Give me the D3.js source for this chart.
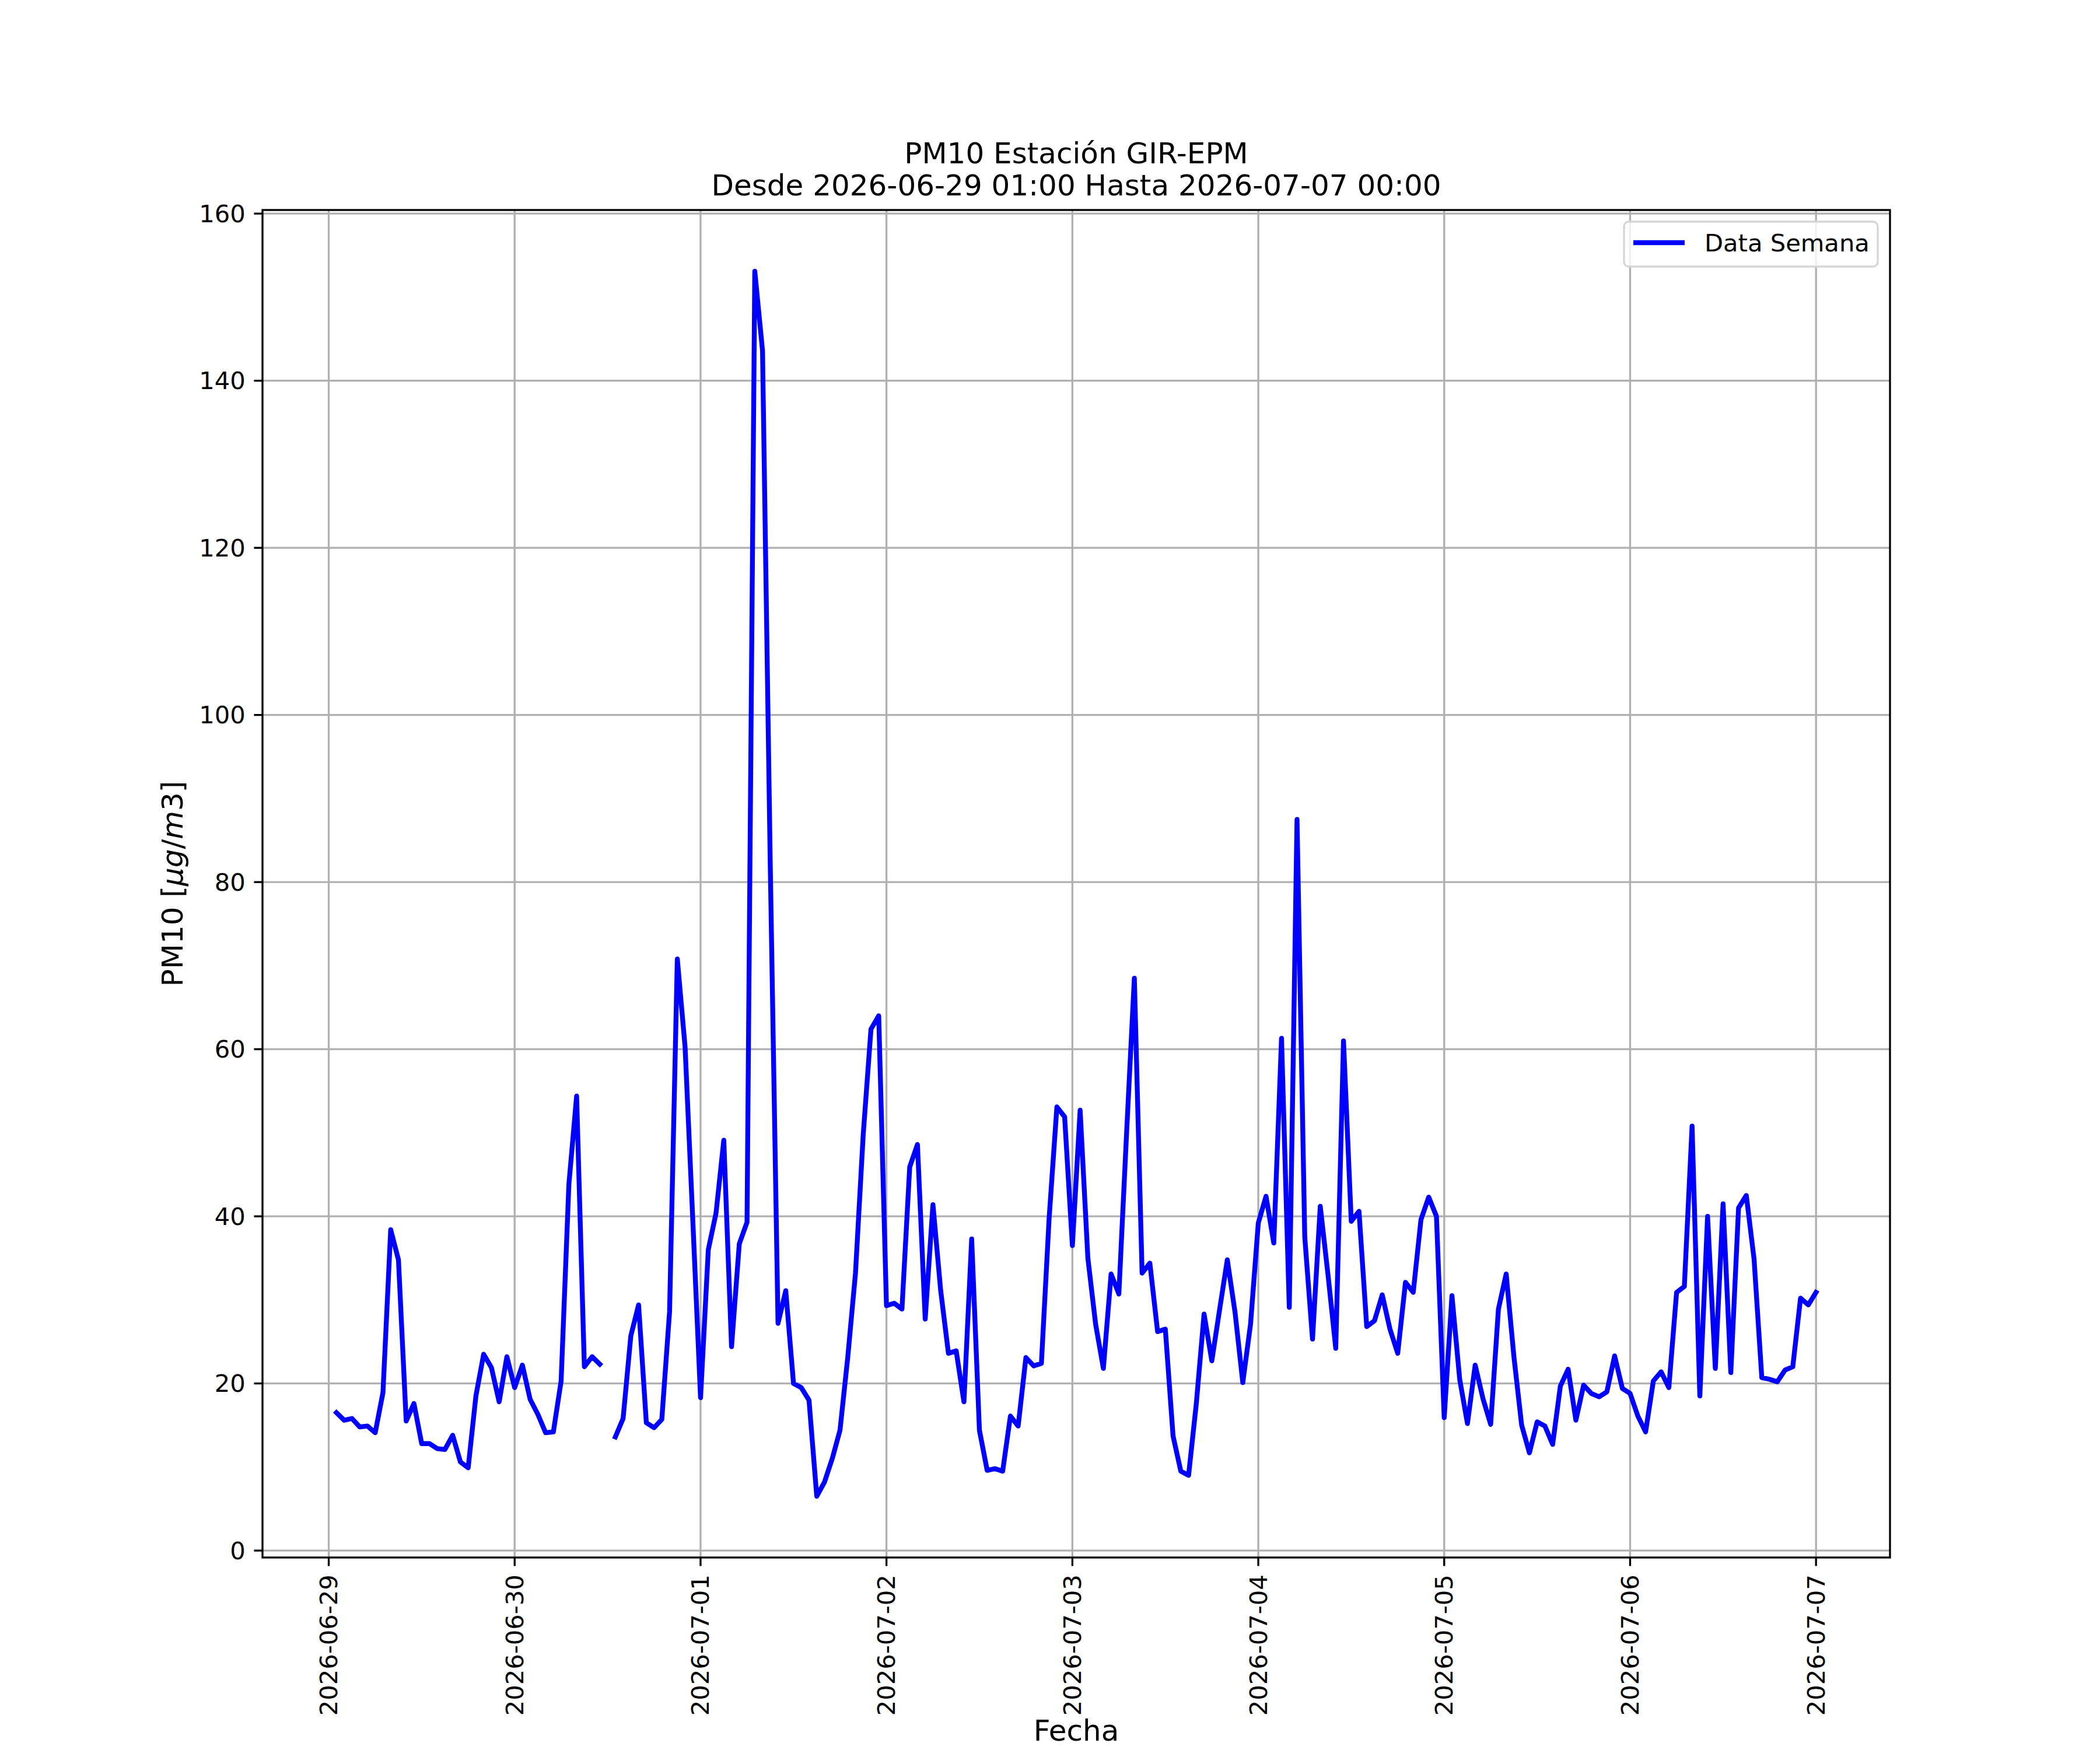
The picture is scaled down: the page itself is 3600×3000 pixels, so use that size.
<!DOCTYPE html>
<html>
<head>
<meta charset="utf-8">
<script src="https://cdn.jsdelivr.net/npm/d3@7"></script>
<style>
  body { margin: 0; background: #fff; }
  svg { display: block; font-family: "DejaVu Sans", sans-serif; }
</style>
</head>
<body>
<svg width="3600" height="3000"></svg>
<script>
// hourly PM10, from 2026-06-29 01:00 (null = missing hour)
const startHour = Date.UTC(2026, 5, 29, 1);
const pm10 = [
  16.5, 15.6, 15.8, 14.8, 14.9, 14.1, 18.9, 38.4, 34.8, 15.5, 17.6, 12.8,
  12.8, 12.2, 12.1, 13.8, 10.6, 9.9, 18.5, 23.5, 21.9, 17.8, 23.2, 19.5,
  22.2, 18.1, 16.3, 14.1, 14.2, 20.3, 43.8, 54.4, 22.0, 23.2, 22.3, null,
  13.6, 15.8, 25.7, 29.4, 15.3, 14.7, 15.7, 28.6, 70.8, 60.3, 39.5, 18.3,
  36.0, 40.4, 49.1, 24.4, 36.7, 39.3, 153.1, 143.6, 82.0, 27.2, 31.1, 20.0,
  19.5, 18.0, 6.5, 8.2, 11.0, 14.4, 23.1, 33.2, 49.8, 62.4, 64.0, 29.3,
  29.6, 28.9, 45.9, 48.6, 27.7, 41.4, 31.1, 23.6, 23.9, 17.8, 37.3, 14.4,
  9.6, 9.8, 9.5, 16.1, 14.9, 23.1, 22.1, 22.4, 39.8, 53.1, 51.9, 36.5,
  52.7, 35.0, 27.1, 21.8, 33.1, 30.7, 50.0, 68.5, 33.2, 34.4, 26.2, 26.5,
  13.7, 9.5, 9.0, 17.6, 28.3, 22.7, 28.8, 34.8, 28.5, 20.1, 27.1, 39.2,
  42.4, 36.8, 61.3, 29.1, 87.5, 37.5, 25.3, 41.2, 33.0, 24.2, 61.0, 39.4,
  40.6, 26.8, 27.5, 30.6, 26.5, 23.6, 32.1, 30.9, 39.6, 42.3, 40.0, 15.9,
  30.5, 20.5, 15.2, 22.2, 18.2, 15.1, 28.9, 33.1, 23.2, 15.0, 11.7, 15.4,
  14.9, 12.7, 19.7, 21.7, 15.6, 19.8, 18.8, 18.4, 19.0, 23.3, 19.4, 18.8,
  16.1, 14.2, 20.3, 21.4, 19.5, 30.9, 31.6, 50.8, 18.5, 40.0, 21.8, 41.5,
  21.3, 41.0, 42.5, 34.9, 20.7, 20.5, 20.2, 21.6, 22.0, 30.2, 29.4, 30.9
];
const yTicks = [0, 20, 40, 60, 80, 100, 120, 140, 160];
const dayTicks = ["2026-06-29", "2026-06-30", "2026-07-01", "2026-07-02", "2026-07-03",
                  "2026-07-04", "2026-07-05", "2026-07-06", "2026-07-07"];
const titleLines = ["PM10 Estación GIR-EPM", "Desde 2026-06-29 01:00 Hasta 2026-07-07 00:00"];
const seriesName = "Data Semana";

const data = pm10.map((v, i) => ({ t: new Date(startHour + i * 3600e3), v: v }));

// figure 12x10 in @ 300 dpi, default subplot box
const W = 3600, H = 3000;
const ax = { left: 450, right: 3240, top: 360, bottom: 2670 };
const pt = 300 / 72;
const tickLen = 3.5 * pt, tickPad = 3.5 * pt, thin = 0.8 * pt;
const tickFont = 10 * pt, labelFont = 12 * pt;

// 5% margins like matplotlib autoscale
const tExt = d3.extent(data, d => d.t);
const tSpan = tExt[1] - tExt[0];
const vals = pm10.filter(v => v != null);
const vExt = d3.extent(vals);
const vSpan = vExt[1] - vExt[0];

const x = d3.scaleUtc()
  .domain([new Date(+tExt[0] - 0.05 * tSpan), new Date(+tExt[1] + 0.05 * tSpan)])
  .range([ax.left, ax.right]);
const y = d3.scaleLinear()
  .domain([vExt[0] - 0.05 * vSpan, vExt[1] + 0.05 * vSpan])
  .range([ax.bottom, ax.top]);

const parseDay = d3.utcParse("%Y-%m-%d");
const days = dayTicks.map(parseDay);

const svg = d3.select("svg");
svg.append("rect").attr("width", W).attr("height", H).attr("fill", "#fff");

// grid
const grid = svg.append("g").attr("stroke", "#b0b0b0").attr("stroke-width", thin);
grid.selectAll(".gx").data(days).enter().append("line")
  .attr("x1", d => x(d)).attr("x2", d => x(d))
  .attr("y1", ax.top).attr("y2", ax.bottom);
grid.selectAll(".gy").data(yTicks).enter().append("line")
  .attr("x1", ax.left).attr("x2", ax.right)
  .attr("y1", d => y(d)).attr("y2", d => y(d));

// series
const line = d3.line()
  .defined(d => d.v != null)
  .x(d => x(d.t))
  .y(d => y(d.v));
svg.append("path")
  .datum(data)
  .attr("d", line)
  .attr("fill", "none")
  .attr("stroke", "#0000ff")
  .attr("stroke-width", 2 * pt)
  .attr("stroke-linejoin", "round")
  .attr("stroke-linecap", "square");

// spines
svg.append("rect")
  .attr("x", ax.left).attr("y", ax.top)
  .attr("width", ax.right - ax.left).attr("height", ax.bottom - ax.top)
  .attr("fill", "none").attr("stroke", "#000").attr("stroke-width", thin);

// x ticks
const xt = svg.append("g");
xt.selectAll("line").data(days).enter().append("line")
  .attr("x1", d => x(d)).attr("x2", d => x(d))
  .attr("y1", ax.bottom).attr("y2", ax.bottom + tickLen)
  .attr("stroke", "#000").attr("stroke-width", thin);
xt.selectAll("text").data(days).enter().append("text")
  .attr("transform", d => `translate(${x(d)},${ax.bottom + tickLen + tickPad}) rotate(-90)`)
  .attr("text-anchor", "end")
  .attr("dominant-baseline", "central")
  .attr("font-size", tickFont)
  .text(d3.utcFormat("%Y-%m-%d"));

// y ticks
const yt = svg.append("g");
yt.selectAll("line").data(yTicks).enter().append("line")
  .attr("x1", ax.left - tickLen).attr("x2", ax.left)
  .attr("y1", d => y(d)).attr("y2", d => y(d))
  .attr("stroke", "#000").attr("stroke-width", thin);
yt.selectAll("text").data(yTicks).enter().append("text")
  .attr("x", ax.left - tickLen - tickPad)
  .attr("y", d => y(d))
  .attr("text-anchor", "end")
  .attr("dominant-baseline", "central")
  .attr("font-size", tickFont)
  .text(d => d);

// axis labels
svg.append("text")
  .attr("x", (ax.left + ax.right) / 2).attr("y", 2984)
  .attr("text-anchor", "middle")
  .attr("font-size", labelFont)
  .text("Fecha");

const yl = svg.append("text")
  .attr("transform", `translate(296,${(ax.top + ax.bottom) / 2}) rotate(-90)`)
  .attr("text-anchor", "middle")
  .attr("dominant-baseline", "central")
  .attr("font-size", labelFont);
yl.append("tspan").text("PM10 [");
yl.append("tspan").attr("font-style", "italic").text("μg");
yl.append("tspan").text("/");
yl.append("tspan").attr("font-style", "italic").text("m");
yl.append("tspan").text("3]");

// title
svg.selectAll(".title").data(titleLines).enter().append("text")
  .attr("x", (ax.left + ax.right) / 2)
  .attr("y", (d, i) => 280 + i * 55)
  .attr("text-anchor", "middle")
  .attr("font-size", labelFont)
  .text(d => d);

// legend
const lg = svg.append("g");
lg.append("rect")
  .attr("x", 2784).attr("y", 380)
  .attr("width", 3219 - 2784).attr("height", 457 - 380)
  .attr("rx", 8).attr("ry", 8)
  .attr("fill", "rgba(255,255,255,0.8)")
  .attr("stroke", "#d6d6d6").attr("stroke-width", thin);
lg.append("line")
  .attr("x1", 2800).attr("x2", 2888)
  .attr("y1", 416).attr("y2", 416)
  .attr("stroke", "#0000ff").attr("stroke-width", 2 * pt)
  .attr("stroke-linecap", "butt");
lg.append("text")
  .attr("x", 2922).attr("y", 431)
  .attr("font-size", tickFont)
  .text(seriesName);
</script>
</body>
</html>
